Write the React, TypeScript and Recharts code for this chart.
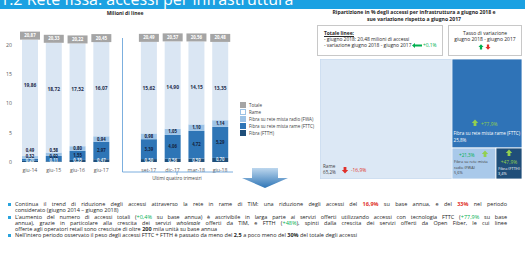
import { BarChart, Bar, XAxis, YAxis, LabelList, Treemap } from 'recharts'

// milioni di linee, per trimestre ('' = spazio prima degli ultimi quattro trimestri)
const categories = ['giu-14', 'giu-15', 'giu-16', 'giu-17', '', 'set-17', 'dic-17', 'mar-18', 'giu-18']
const ftth = [0.2, 0.11, 0.35, 0.47, null, 0.5, 0.56, 0.59, 0.7]
const fttc = [0.32, 0.92, 1.55, 2.97, null, 3.39, 4.06, 4.72, 5.29]
const fwa = [0.49, 0.58, 0.8, 0.94, null, 0.98, 1.05, 1.1, 1.14]
const rame = [19.86, 18.72, 17.52, 16.07, null, 15.62, 14.9, 14.15, 13.35]
const totale = [20.87, 20.33, 20.22, 20.45, null, 20.49, 20.57, 20.56, 20.48]
const yTicks = [0, 5, 10, 15, 20]

const treeNames = ['Rame', 'Fibra su rete mista rame (FTTC)', 'Fibra su rete mista radio (FWA)', 'Fibra (FTTH)']
const treeShares = [65.2, 25.8, 5.6, 3.4]
const treeChanges = [-16.9, 77.9, 21.3, 47.9]

const barData = categories.map((name, i) => ({
  name,
  ftth: ftth[i],
  fttc: fttc[i],
  fwa: fwa[i],
  rame: rame[i],
  totale: totale[i],
}))
const treeData = treeNames.map((name, i) => ({ name, size: treeShares[i], change: treeChanges[i] }))

const C = {
  rame: '#dae6f3',
  fwa: '#9dc3e6',
  fttc: '#2e75b6',
  ftth: '#1f4e79',
  tot: '#a5a5a5',
  green: '#00b050',
  lime: '#92d050',
  red: '#e0302a',
  text: '#404040',
}
const FONT = "'Open Sans', sans-serif"
const PLOT_BOTTOM = 162

const fmt = (v: number, d = 2) => v.toFixed(d).replace('.', ',')

function segLabel(kind: string, fill: string) {
  return (p: any) => {
    const { x, y, width, height, value } = p
    if (value == null || x == null) return null
    const cx = x + width / 2
    let cy = y + height / 2
    if (kind === 'fttc') cy = Math.min(cy, PLOT_BOTTOM - 6)
    if (kind === 'fwa') cy = Math.min(cy, PLOT_BOTTOM - 11.5)
    if (kind === 'ftth') cy = Math.min(cy, PLOT_BOTTOM - 1.8)
    if (kind === 'rame') cy = y + 46
    return (
      <text x={cx} y={cy} dy="0.35em" textAnchor="middle" fontSize={kind === 'rame' ? 4.9 : 4.3} fontWeight={700} fill={fill} fontFamily={FONT}>
        {fmt(Number(value))}
      </text>
    )
  }
}

function totLabel(p: any) {
  const { x, y, width, value } = p
  if (value == null || x == null) return null
  const cx = x + width / 2
  return (
    <g>
      <rect x={cx - 10} y={y - 8} width={20} height={8} fill={C.tot} />
      <text x={cx} y={y - 4} dy="0.35em" textAnchor="middle" fontSize={4.4} fontWeight={700} fill="#fff" fontFamily={FONT}>
        {fmt(Number(value))}
      </text>
    </g>
  )
}

const legendItems = [
  { label: 'Totale', fill: C.tot, border: C.tot },
  { label: 'Rame', fill: '#fff', border: C.fwa },
  { label: 'Fibra su rete mista radio (FWA)', fill: C.fwa, border: C.fwa },
  { label: 'Fibra su rete mista rame (FTTC)', fill: C.fttc, border: C.fttc },
  { label: 'Fibra (FTTH)', fill: C.ftth, border: C.ftth },
]

function LegendBox() {
  return (
    <div style={{ position: 'absolute', left: 240, top: 101, fontFamily: FONT, fontSize: 4.5, color: C.text }}>
      {legendItems.map((it) => (
        <div key={it.label} style={{ display: 'flex', alignItems: 'center', height: 7 }}>
          <span style={{ width: 4, height: 4, background: it.fill, border: `0.6px solid ${it.border}`, marginRight: 3, flex: 'none' }} />
          <span style={{ whiteSpace: 'nowrap' }}>{it.label}</span>
        </div>
      ))}
    </div>
  )
}

function Arrow({ cx, cy, up, color, s = 1 }: { cx: number; cy: number; up: boolean; color: string; s?: number }) {
  const k = up ? 1 : -1
  const pts = [[0, -3.5], [3.2, 0], [1.4, 0], [1.4, 3], [-1.4, 3], [-1.4, 0], [-3.2, 0]]
  return <polygon points={pts.map(([a, b]) => `${cx + a * s},${cy + b * s * k}`).join(' ')} fill={color} />
}

function TreeCell(p: any) {
  const { x, y, width: w, height: h, depth, name } = p
  if (depth !== 1) return <g />
  const i = treeNames.indexOf(name)
  const change = p.change ?? treeChanges[i]
  const chg = `${change > 0 ? '+' : ''}${fmt(change, 1)}%`
  const share = `${fmt(treeShares[i], 1)}%`
  const fills = ['#dce8f5', '#2f73b7', '#a9c9ea', '#1f4e79']
  const t = { fontFamily: FONT, fontSize: 4.6 }
  return (
    <g>
      <rect x={x} y={y} width={w} height={h} fill={fills[i]} stroke={i === 0 ? '#bcd2ea' : '#fff'} strokeWidth={0.8} />
      {i === 0 && (
        <g>
          <text x={x + 3} y={y + h - 11} {...t} fill={C.text}>Rame</text>
          <text x={x + 3} y={y + h - 5} {...t} fill={C.text}>{share}</text>
          <Arrow cx={x + 25} cy={y + h - 9} up={false} color={C.red} />
          <text x={x + 31} y={y + h - 7.5} {...t} fontSize={4.9} fill={C.red}>{chg}</text>
        </g>
      )}
      {i === 1 && (
        <g>
          <Arrow cx={x + 23} cy={y + 64} up color={C.lime} />
          <text x={x + 29} y={y + 67} {...t} fontSize={4.9} fill={C.lime}>{chg}</text>
          <text x={x + 1.5} y={y + 76} {...t} fill="#fff">{name}</text>
          <text x={x + 1.5} y={y + 83} {...t} fill="#fff">{share}</text>
        </g>
      )}
      {i === 2 && (
        <g>
          <text x={x + 7} y={y + 9} {...t} fill={C.green}>{chg}</text>
          <Arrow cx={x + 33} cy={y + 6} up color={C.lime} />
          <text x={x + 2} y={y + 15} {...t} fontSize={3.9} fill={C.text}>Fibra su rete mista</text>
          <text x={x + 2} y={y + 20.5} {...t} fontSize={3.9} fill={C.text}>radio (FWA)</text>
          <text x={x + 2} y={y + 26} {...t} fontSize={3.9} fill={C.text}>{share}</text>
        </g>
      )}
      {i === 3 && (
        <g>
          <Arrow cx={x + w / 2} cy={y + 5} up color={C.lime} />
          <text x={x + w / 2} y={y + 16} textAnchor="middle" {...t} fontSize={4.9} fill={C.lime}>{chg}</text>
          <text x={x + w / 2} y={y + 21.5} textAnchor="middle" {...t} fontSize={3.9} fill="#fff">{name}</text>
          <text x={x + 2} y={y + 27} {...t} fontSize={3.9} fill="#fff">{share}</text>
        </g>
      )}
    </g>
  )
}

const red = { color: C.red, fontWeight: 700 }
const grn = { color: C.green }
const b = { fontWeight: 700 }
const line = { textAlign: 'justify' as const, textAlignLast: 'justify' as const, height: 6 }
const last = { height: 6 }

function Bullet({ top, children }: { top: number; children: any }) {
  return (
    <div style={{ position: 'absolute', left: 15, top, width: 492 }}>
      <span style={{ position: 'absolute', left: -7, top: 2, width: 2.6, height: 2.6, background: '#29a3dd' }} />
      {children}
    </div>
  )
}

export default function App() {
  return (
    <div style={{ position: 'absolute', left: 0, top: 0, width: 525, height: 260, overflow: 'hidden', background: '#fff', fontFamily: FONT, color: C.text }}>
      <div style={{ position: 'absolute', left: 0, top: 0, width: 525, height: 9, background: '#1ba1e2', overflow: 'hidden' }}>
        <div style={{ position: 'absolute', left: 0, top: -9, fontSize: 16, lineHeight: '16px', color: '#fff', whiteSpace: 'nowrap' }}>
          1.2 Rete fissa: accessi per infrastruttura
        </div>
      </div>

      <div style={{ position: 'absolute', left: 75, top: 10, width: 100, textAlign: 'center', fontSize: 5, fontWeight: 700, color: '#262626' }}>
        Milioni di linee
      </div>

      <div style={{ position: 'absolute', left: 0, top: 0 }}>
        <BarChart width={240} height={185} data={barData} margin={{ top: 33, right: 8, bottom: 9, left: 0 }} barSize={16}>
          <XAxis dataKey="name" axisLine={false} tickLine={false} tickSize={4} interval={0} tick={{ fontSize: 5.2, fill: '#595959', fontFamily: FONT }} height={14} />
          <YAxis domain={[0, 22]} ticks={yTicks} width={18} axisLine={false} tickLine={false} tickSize={4} tick={{ fontSize: 5.2, fill: '#595959', fontFamily: FONT }} />
          <Bar dataKey="ftth" stackId="a" fill={C.ftth} isAnimationActive={false}>
            <LabelList dataKey="ftth" content={segLabel('ftth', '#dfe9f5')} />
          </Bar>
          <Bar dataKey="fttc" stackId="a" fill={C.fttc} isAnimationActive={false}>
            <LabelList dataKey="fttc" content={segLabel('fttc', '#14213d')} />
          </Bar>
          <Bar dataKey="fwa" stackId="a" fill={C.fwa} isAnimationActive={false}>
            <LabelList dataKey="fwa" content={segLabel('fwa', '#14213d')} />
          </Bar>
          <Bar dataKey="rame" stackId="a" fill={C.rame} isAnimationActive={false}>
            <LabelList dataKey="rame" content={segLabel('rame', '#1f2d4d')} />
            <LabelList dataKey="totale" content={totLabel} />
          </Bar>
        </BarChart>
      </div>

      <LegendBox />

      <svg width={525} height={260} style={{ position: 'absolute', left: 0, top: 0, pointerEvents: 'none' }}>
        <defs>
          <linearGradient id="arr" x1="0" y1="0" x2="0" y2="1">
            <stop offset="0" stopColor="#bdd7ee" />
            <stop offset="1" stopColor="#2e75b6" />
          </linearGradient>
        </defs>
        <path d="M122.5 38 V172 H233" fill="none" stroke="#5b9bd5" strokeWidth={0.8} />
        <line x1={177} y1={172} x2={177} y2={175} stroke="#5b9bd5" strokeWidth={0.8} />
        <text x={177} y={180} textAnchor="middle" fontSize={4.6} fill={C.text} fontFamily={FONT}>Ultimi quattro trimestri</text>
        <polygon points="252,168 278,168 278,178 288,178 265,188 242,178 252,178" fill="url(#arr)" />
      </svg>

      <div style={{ position: 'absolute', left: 310, top: 9, width: 208, textAlign: 'center', fontSize: 5.1, lineHeight: '7px', fontWeight: 700, color: '#262626' }}>
        Ripartizione in % degli accessi per infrastruttura a giugno 2018 e
        <br />
        sue variazione rispetto a giugno 2017
      </div>

      <div style={{ position: 'absolute', left: 317, top: 25, width: 126, height: 31, border: '1px solid #c8c8c8', fontSize: 4.9, lineHeight: '6px', paddingLeft: 6, paddingTop: 4, boxSizing: 'border-box', color: '#262626', whiteSpace: 'nowrap' }}>
        <div style={{ fontWeight: 700, textDecoration: 'underline' }}>Totale linee:</div>
        <div>- giugno 2018: 20,48 milioni di accessi</div>
        <div style={{ display: 'flex', alignItems: 'center' }}>
          <span>- variazione giugno 2018 - giugno 2017</span>
          <svg width={11} height={5} style={{ marginLeft: 0.5, flex: 'none' }}>
            <polygon points="0,2.5 3,0 3,1.5 10,1.5 10,3.5 3,3.5 3,5" fill={C.green} />
          </svg>
          <span style={grn}>+0,1%</span>
        </div>
      </div>

      <div style={{ position: 'absolute', left: 448, top: 25, width: 74, height: 31, border: '1px solid #c8c8c8', fontSize: 5, lineHeight: '6px', paddingTop: 4, boxSizing: 'border-box', textAlign: 'center', color: '#262626' }}>
        <div>Tasso di variazione</div>
        <div>giugno 2018 - giugno 2017</div>
        <svg width={18} height={6} style={{ display: 'block', margin: '2px auto 0' }}>
          <Arrow cx={5} cy={3} up color={C.green} s={0.8} />
          <Arrow cx={12} cy={3} up={false} color={C.red} s={0.8} />
        </svg>
      </div>

      <div style={{ position: 'absolute', left: 320, top: 59 }}>
        <Treemap width={202} height={120} data={treeData} dataKey="size" isAnimationActive={false} content={(p: any) => <TreeCell {...p} />} />
      </div>

      <div style={{ fontSize: 5.5, lineHeight: '6px', color: '#262626' }}>
        <Bullet top={201}>
          <div style={line}>
            Continua il trend di riduzione degli accessi attraverso la rete in rame di TIM: una riduzione degli accessi del <span style={red}>16,9%</span> su base annua, e del <span style={red}>33%</span> nel periodo
          </div>
          <div style={last}>considerato (giugno 2014 – giugno 2018)</div>
        </Bullet>
        <Bullet top={214}>
          <div style={line}>
            L’aumento del numero di accessi totali (<span style={grn}>+0,4%</span> su base annua) è ascrivibile in larga parte ai servizi offerti utilizzando accessi con tecnologia FTTC (<span style={grn}>+77,9%</span> su base
          </div>
          <div style={line}>
            annua), grazie in particolare alla crescita dei servizi <i>wholesale</i> offerti da TIM, e FTTH (<span style={grn}>+48%</span>), spinti dalla crescita dei servizi offerti da Open Fiber, le cui linee
          </div>
          <div style={last}>
            offerte agli operatori retail sono cresciute di oltre <span style={b}>200</span> mila unità su base annua
          </div>
        </Bullet>
        <Bullet top={232}>
          <div style={last}>
            Nell’intero periodo osservato il peso degli accessi FTTC + FTTH è passato da meno del <span style={b}>2,5</span> a poco meno del <span style={b}>30%</span> del totale degli accessi
          </div>
        </Bullet>
      </div>
    </div>
  )
}
